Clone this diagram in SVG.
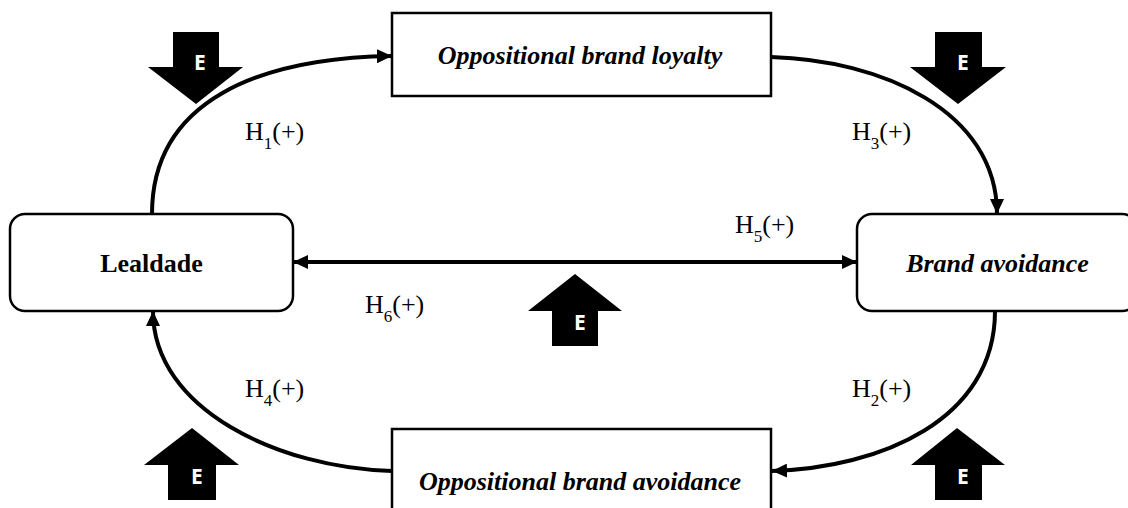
<svg xmlns="http://www.w3.org/2000/svg" width="1128" height="508" viewBox="0 0 1128 508">
<style>
.box{fill:#fff;stroke:#000;stroke-width:2.5}
.conn{fill:none;stroke:#000;stroke-width:4}
.lbl{font-family:"Liberation Serif",serif;font-size:26px;font-weight:bold;fill:#000;text-anchor:middle}
.it{font-style:italic}
.h{font-family:"Liberation Serif",serif;font-size:26px;fill:#000}
.sub{font-size:17px}
.ea{fill:#000}
.et{font-family:"Open Sans",sans-serif;font-size:21px;font-weight:bold;fill:#fff;text-anchor:middle}
</style>
<defs>
<marker id="ah" markerUnits="userSpaceOnUse" markerWidth="16" markerHeight="14" refX="15" refY="7" orient="auto-start-reverse">
<path d="M0,0 L15,7 L0,14 z" fill="#000"/>
</marker>
</defs>
<rect width="1128" height="508" fill="#fff"/>
<g id="connectors">
<path class="conn" d="M152,214 C152,100 260,58 392,56" marker-end="url(#ah)"/>
<path class="conn" d="M771,57 C880,60 997,110 997,214" marker-end="url(#ah)"/>
<path class="conn" d="M995,311 C995,420 880,468 772,471" marker-end="url(#ah)"/>
<path class="conn" d="M392,471 C280,468 153,410 153,311" marker-end="url(#ah)"/>
<path class="conn" d="M293,262 L857,262" marker-start="url(#ah)" marker-end="url(#ah)"/>
</g>
<g id="node-lealdade">
<rect class="box" x="10" y="214" width="283" height="97" rx="15"/>
<text class="lbl" x="151.5" y="272">Lealdade</text>
</g>
<g id="node-brand-avoidance">
<rect class="box" x="857" y="214" width="280" height="97" rx="15"/>
<text class="lbl it" x="997.5" y="272">Brand avoidance</text>
</g>
<g id="node-opp-loyalty">
<rect class="box" x="392" y="13" width="379" height="83"/>
<text class="lbl it" x="580" y="64">Oppositional brand loyalty</text>
</g>
<g id="node-opp-avoidance">
<rect class="box" x="392" y="429" width="379" height="90"/>
<text class="lbl it" x="580" y="490">Oppositional brand avoidance</text>
</g>
<g id="labels">
<text class="h" x="245" y="140">H<tspan class="sub" dy="9">1</tspan><tspan dy="-9">(+)</tspan></text>
<text class="h" x="852" y="140">H<tspan class="sub" dy="9">3</tspan><tspan dy="-9">(+)</tspan></text>
<text class="h" x="735" y="233">H<tspan class="sub" dy="9">5</tspan><tspan dy="-9">(+)</tspan></text>
<text class="h" x="365" y="313">H<tspan class="sub" dy="9">6</tspan><tspan dy="-9">(+)</tspan></text>
<text class="h" x="245" y="397">H<tspan class="sub" dy="9">4</tspan><tspan dy="-9">(+)</tspan></text>
<text class="h" x="852" y="397">H<tspan class="sub" dy="9">2</tspan><tspan dy="-9">(+)</tspan></text>
</g>
<g id="e-top-left">
<polygon class="ea" points="173,32 219,32 219,67 243,67 196,104 148,67 173,67"/>
<text class="et" x="200" y="70">E</text>
</g>
<g id="e-top-right">
<polygon class="ea" points="935,32 982,32 982,67 1006,67 958,104 910,67 935,67"/>
<text class="et" x="963" y="70">E</text>
</g>
<g id="e-center">
<polygon class="ea" points="575,274 622,311 598,311 598,346 552,346 552,311 528,311"/>
<text class="et" x="580" y="330">E</text>
</g>
<g id="e-bottom-left">
<polygon class="ea" points="192,428 239,465 216,465 216,500 168,500 168,465 144,465"/>
<text class="et" x="197" y="484">E</text>
</g>
<g id="e-bottom-right">
<polygon class="ea" points="957,428 1005,465 982,465 982,500 935,500 935,465 911,465"/>
<text class="et" x="963" y="484">E</text>
</g>
</svg>
